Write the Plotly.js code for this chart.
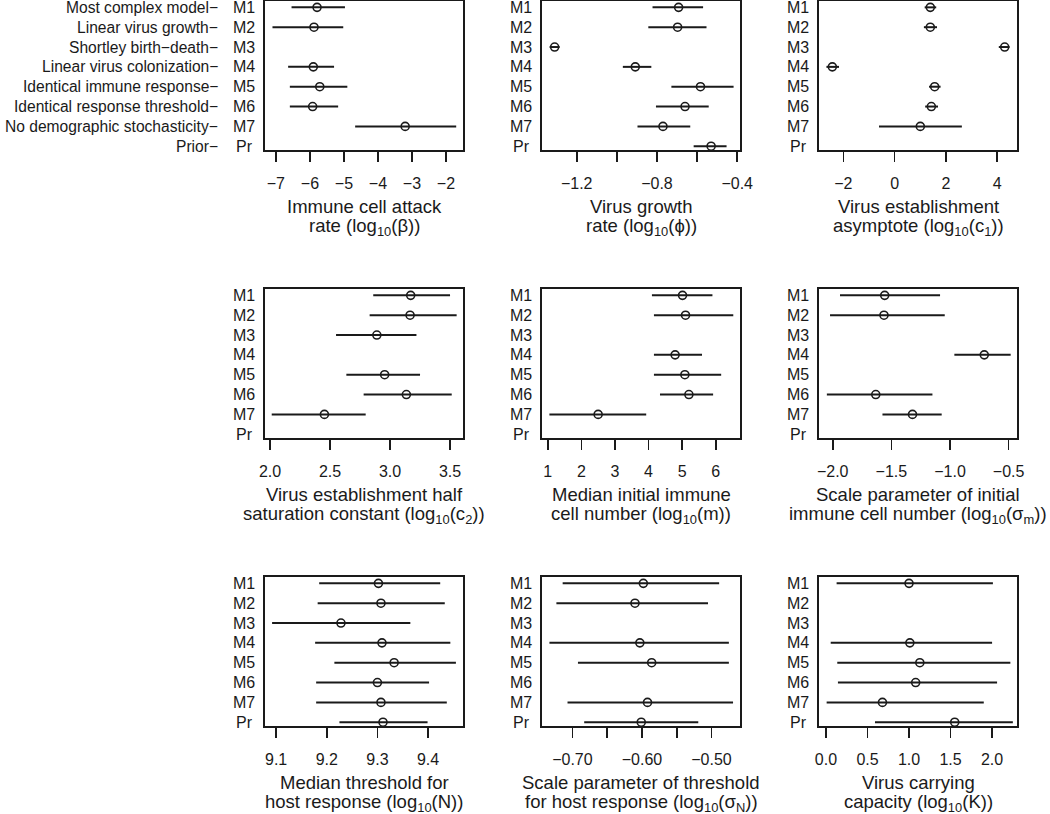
<!DOCTYPE html>
<html><head><meta charset="utf-8">
<script src="https://cdn.plot.ly/plotly-3.0.1.min.js"></script>
<style>html,body{margin:0;padding:0;background:#fff}#chart{width:1050px;height:814px}</style>
</head><body><div id="chart"></div>
<script>
// ---- categories ----
const codes = ['M1', 'M2', 'M3', 'M4', 'M5', 'M6', 'M7', 'Pr'];
const descriptions = ['Most complex model\u2212', 'Linear virus growth\u2212', 'Shortley birth\u2212death\u2212',
  'Linear virus colonization\u2212', 'Identical immune response\u2212', 'Identical response threshold\u2212',
  'No demographic stochasticity\u2212', 'Prior\u2212'];

// ---- estimates (median, lower, upper) per parameter, order M1..M7, Pr ----
const betaMid = [-5.79, -5.88, null, -5.90, -5.71, -5.92, -3.20, null];
const betaLo  = [-6.54, -7.10, null, -6.64, -6.59, -6.59, -4.67, null];
const betaHi  = [-4.97, -5.02, null, -5.29, -4.90, -5.17, -1.70, null];

const phiMid = [-0.692, -0.697, -1.310, -0.908, -0.583, -0.660, -0.770, -0.530];
const phiLo  = [-0.822, -0.843, -1.335, -0.970, -0.728, -0.805, -0.897, -0.617];
const phiHi  = [-0.570, -0.553, -1.285, -0.828, -0.418, -0.542, -0.634, -0.453];

const c1Mid = [1.39, 1.39, 4.29, -2.43, 1.56, 1.43, 1.00, null];
const c1Lo  = [1.17, 1.14, 4.06, -2.66, 1.34, 1.19, -0.61, null];
const c1Hi  = [1.62, 1.65, 4.48, -2.17, 1.79, 1.69, 2.62, null];

const c2Mid = [3.172, 3.167, 2.89, null, 2.955, 3.136, 2.453, null];
const c2Lo  = [2.86, 2.83, 2.55, null, 2.636, 2.78, 2.014, null];
const c2Hi  = [3.50, 3.555, 3.22, null, 3.25, 3.514, 2.797, null];

const mMid = [5.01, 5.10, null, 4.79, 5.08, 5.20, 2.50, null];
const mLo  = [4.10, 4.16, null, 4.16, 4.16, 4.34, 1.05, null];
const mHi  = [5.90, 6.52, null, 5.59, 6.16, 5.92, 3.93, null];

const sigmaMMid = [-1.557, -1.563, null, -0.708, null, -1.633, -1.32, null];
const sigmaMLo  = [-1.938, -2.023, null, -0.963, null, -2.05, -1.576, null];
const sigmaMHi  = [-1.085, -1.045, null, -0.483, null, -1.15, -1.071, null];

const nMid = [9.302, 9.307, 9.228, 9.309, 9.333, 9.300, 9.307, 9.311];
const nLo  = [9.185, 9.182, 9.092, 9.177, 9.215, 9.179, 9.179, 9.225];
const nHi  = [9.424, 9.433, 9.365, 9.444, 9.455, 9.402, 9.437, 9.399];

const sigmaNMid = [-0.598, -0.610, null, -0.603, -0.586, null, -0.592, -0.601];
const sigmaNLo  = [-0.714, -0.723, null, -0.733, -0.692, null, -0.707, -0.683];
const sigmaNHi  = [-0.489, -0.505, null, -0.475, -0.475, null, -0.469, -0.519];

const kMid = [1.00, null, null, 1.01, 1.13, 1.08, 0.68, 1.55];
const kLo  = [0.128, null, null, 0.057, 0.136, 0.144, 0.008, 0.59];
const kHi  = [2.01, null, null, 2.00, 2.22, 2.06, 1.90, 2.25];

// ---- axis titles (two lines each) ----
const titleLine1 = ['Immune cell attack', 'Virus growth', 'Virus establishment',
  'Virus establishment half', 'Median initial immune', 'Scale parameter of initial',
  'Median threshold for', 'Scale parameter of threshold', 'Virus carrying'];
const titleLine2 = ['rate (log<sub>10</sub>(\u03b2))', 'rate (log<sub>10</sub>(\u03d5))', 'asymptote (log<sub>10</sub>(c<sub>1</sub>))',
  'saturation constant (log<sub>10</sub>(c<sub>2</sub>))', 'cell number (log<sub>10</sub>(m))', 'immune cell number (log<sub>10</sub>(\u03c3<sub>m</sub>))',
  'host response (log<sub>10</sub>(N))', 'for host response (log<sub>10</sub>(\u03c3<sub>N</sub>))', 'capacity (log<sub>10</sub>(K))'];

// ---- tick values and labels ----
const tickVals = [
  [-7, -6, -5, -4, -3, -2],
  [-1.2, -1.0, -0.8, -0.6, -0.4],
  [-2, 0, 2, 4],
  [2.0, 2.5, 3.0, 3.5],
  [1, 2, 3, 4, 5, 6],
  [-2.0, -1.5, -1.0, -0.5],
  [9.1, 9.2, 9.3, 9.4],
  [-0.70, -0.65, -0.60, -0.55, -0.50],
  [0.0, 0.5, 1.0, 1.5, 2.0]
];
const tickLabels = [
  ['\u22127', '\u22126', '\u22125', '\u22124', '\u22123', '\u22122'],
  ['\u22121.2', ' ', '\u22120.8', ' ', '\u22120.4'],
  ['\u22122', '0', '2', '4'],
  ['2.0', '2.5', '3.0', '3.5'],
  ['1', '2', '3', '4', '5', '6'],
  ['\u22122.0', '\u22121.5', '\u22121.0', '\u22120.5'],
  ['9.1', '9.2', '9.3', '9.4'],
  ['\u22120.70', ' ', '\u22120.60', ' ', '\u22120.50'],
  ['0.0', '0.5', '1.0', '1.5', '2.0']
];

const series = [
  [betaMid, betaLo, betaHi], [phiMid, phiLo, phiHi], [c1Mid, c1Lo, c1Hi],
  [c2Mid, c2Lo, c2Hi], [mMid, mLo, mHi], [sigmaMMid, sigmaMLo, sigmaMHi],
  [nMid, nLo, nHi], [sigmaNMid, sigmaNLo, sigmaNHi], [kMid, kLo, kHi]
];

// ---- layout geometry (pixels) ----
const W = 1050, H = 814;
const colLeft = [265, 542, 819], boxW = 198;
const rowTop = [1, 289, 577], boxH = 149;
const xRanges = [[-7.32, -1.5], [-1.373, -0.386], [-2.95, 4.77], [1.958, 3.608], [0.83, 6.72],
  [-2.117, -0.429], [9.078, 9.469], [-0.7437, -0.459], [-0.084, 2.30]];
const ink = '#1a1a1a';
const fontFam = 'Liberation Sans, Arial, Helvetica, sans-serif';

const traces = [];
const layout = {
  width: W, height: H, margin: {l: 0, r: 0, t: 0, b: 0},
  paper_bgcolor: '#fff', plot_bgcolor: '#fff', showlegend: false,
  font: {family: fontFam, color: ink, size: 16},
  annotations: []
};

for (let i = 0; i < 9; i++) {
  const r = Math.floor(i / 3), c = i % 3;
  const sfx = i === 0 ? '' : String(i + 1);
  const [mid, lo, hi] = series[i];
  traces.push({
    type: 'scatter', mode: 'markers', x: mid, y: codes,
    xaxis: 'x' + sfx, yaxis: 'y' + sfx,
    marker: {symbol: 'circle-open', size: 8, color: ink, line: {width: 1.6, color: ink}},
    error_x: {
      type: 'data', symmetric: false,
      array: mid.map((v, k) => v === null ? null : hi[k] - v),
      arrayminus: mid.map((v, k) => v === null ? null : v - lo[k]),
      width: 0, thickness: 2, color: ink
    },
    hoverinfo: 'skip'
  });
  const x0 = colLeft[c] / W, x1 = (colLeft[c] + boxW) / W;
  const y1 = 1 - rowTop[r] / H, y0 = 1 - (rowTop[r] + boxH) / H;
  layout['xaxis' + sfx] = {
    domain: [x0, x1], anchor: 'y' + sfx, range: xRanges[i],
    tickmode: 'array', tickvals: tickVals[i], ticktext: tickLabels[i],
    ticks: 'outside', ticklen: 10, tickwidth: 1.6, tickcolor: ink, ticklabelstandoff: 8,
    showline: true, mirror: true, linewidth: 1.6, linecolor: ink,
    showgrid: false, zeroline: false, tickfont: {size: 16, color: ink, family: fontFam},
    fixedrange: true
  };
  layout['yaxis' + sfx] = {
    domain: [y0, y1], anchor: 'x' + sfx, type: 'category', categoryarray: codes,
    categoryorder: 'array', range: [7.19, -0.32],
    showticklabels: false, ticks: '', showline: true, mirror: true, linewidth: 1.6, linecolor: ink,
    showgrid: false, zeroline: false, fixedrange: true
  };
  // row labels (model codes), centred left of each box
  codes.forEach((code, k) => {
    layout.annotations.push({
      xref: 'paper', yref: 'y' + sfx, x: (colLeft[c] - 21) / W, y: k,
      text: code, showarrow: false, xanchor: 'center', yanchor: 'middle',
      font: {size: 16, color: ink, family: fontFam}
    });
    if (i === 0) {
      layout.annotations.push({
        xref: 'paper', yref: 'y', x: (colLeft[0] - 45) / W, y: k,
        text: descriptions[k], showarrow: false, xanchor: 'right', yanchor: 'middle',
        font: {size: 15.6, color: ink, family: fontFam}
      });
    }
  });
  // axis titles, two lines
  const cx = (colLeft[c] + boxW / 2) / W;
  layout.annotations.push({
    xref: 'paper', yref: 'paper', x: cx, y: 1 - (rowTop[r] + 205.5) / H,
    text: titleLine1[i], showarrow: false, xanchor: 'center', yanchor: 'middle',
    font: {size: 18.5, color: ink, family: fontFam}
  });
  layout.annotations.push({
    xref: 'paper', yref: 'paper', x: cx, y: 1 - (rowTop[r] + 226) / H,
    text: titleLine2[i], showarrow: false, xanchor: 'center', yanchor: 'middle',
    font: {size: 18.5, color: ink, family: fontFam}
  });
}

Plotly.newPlot('chart', traces, layout, {staticPlot: true, displayModeBar: false});
</script>
</body></html>
